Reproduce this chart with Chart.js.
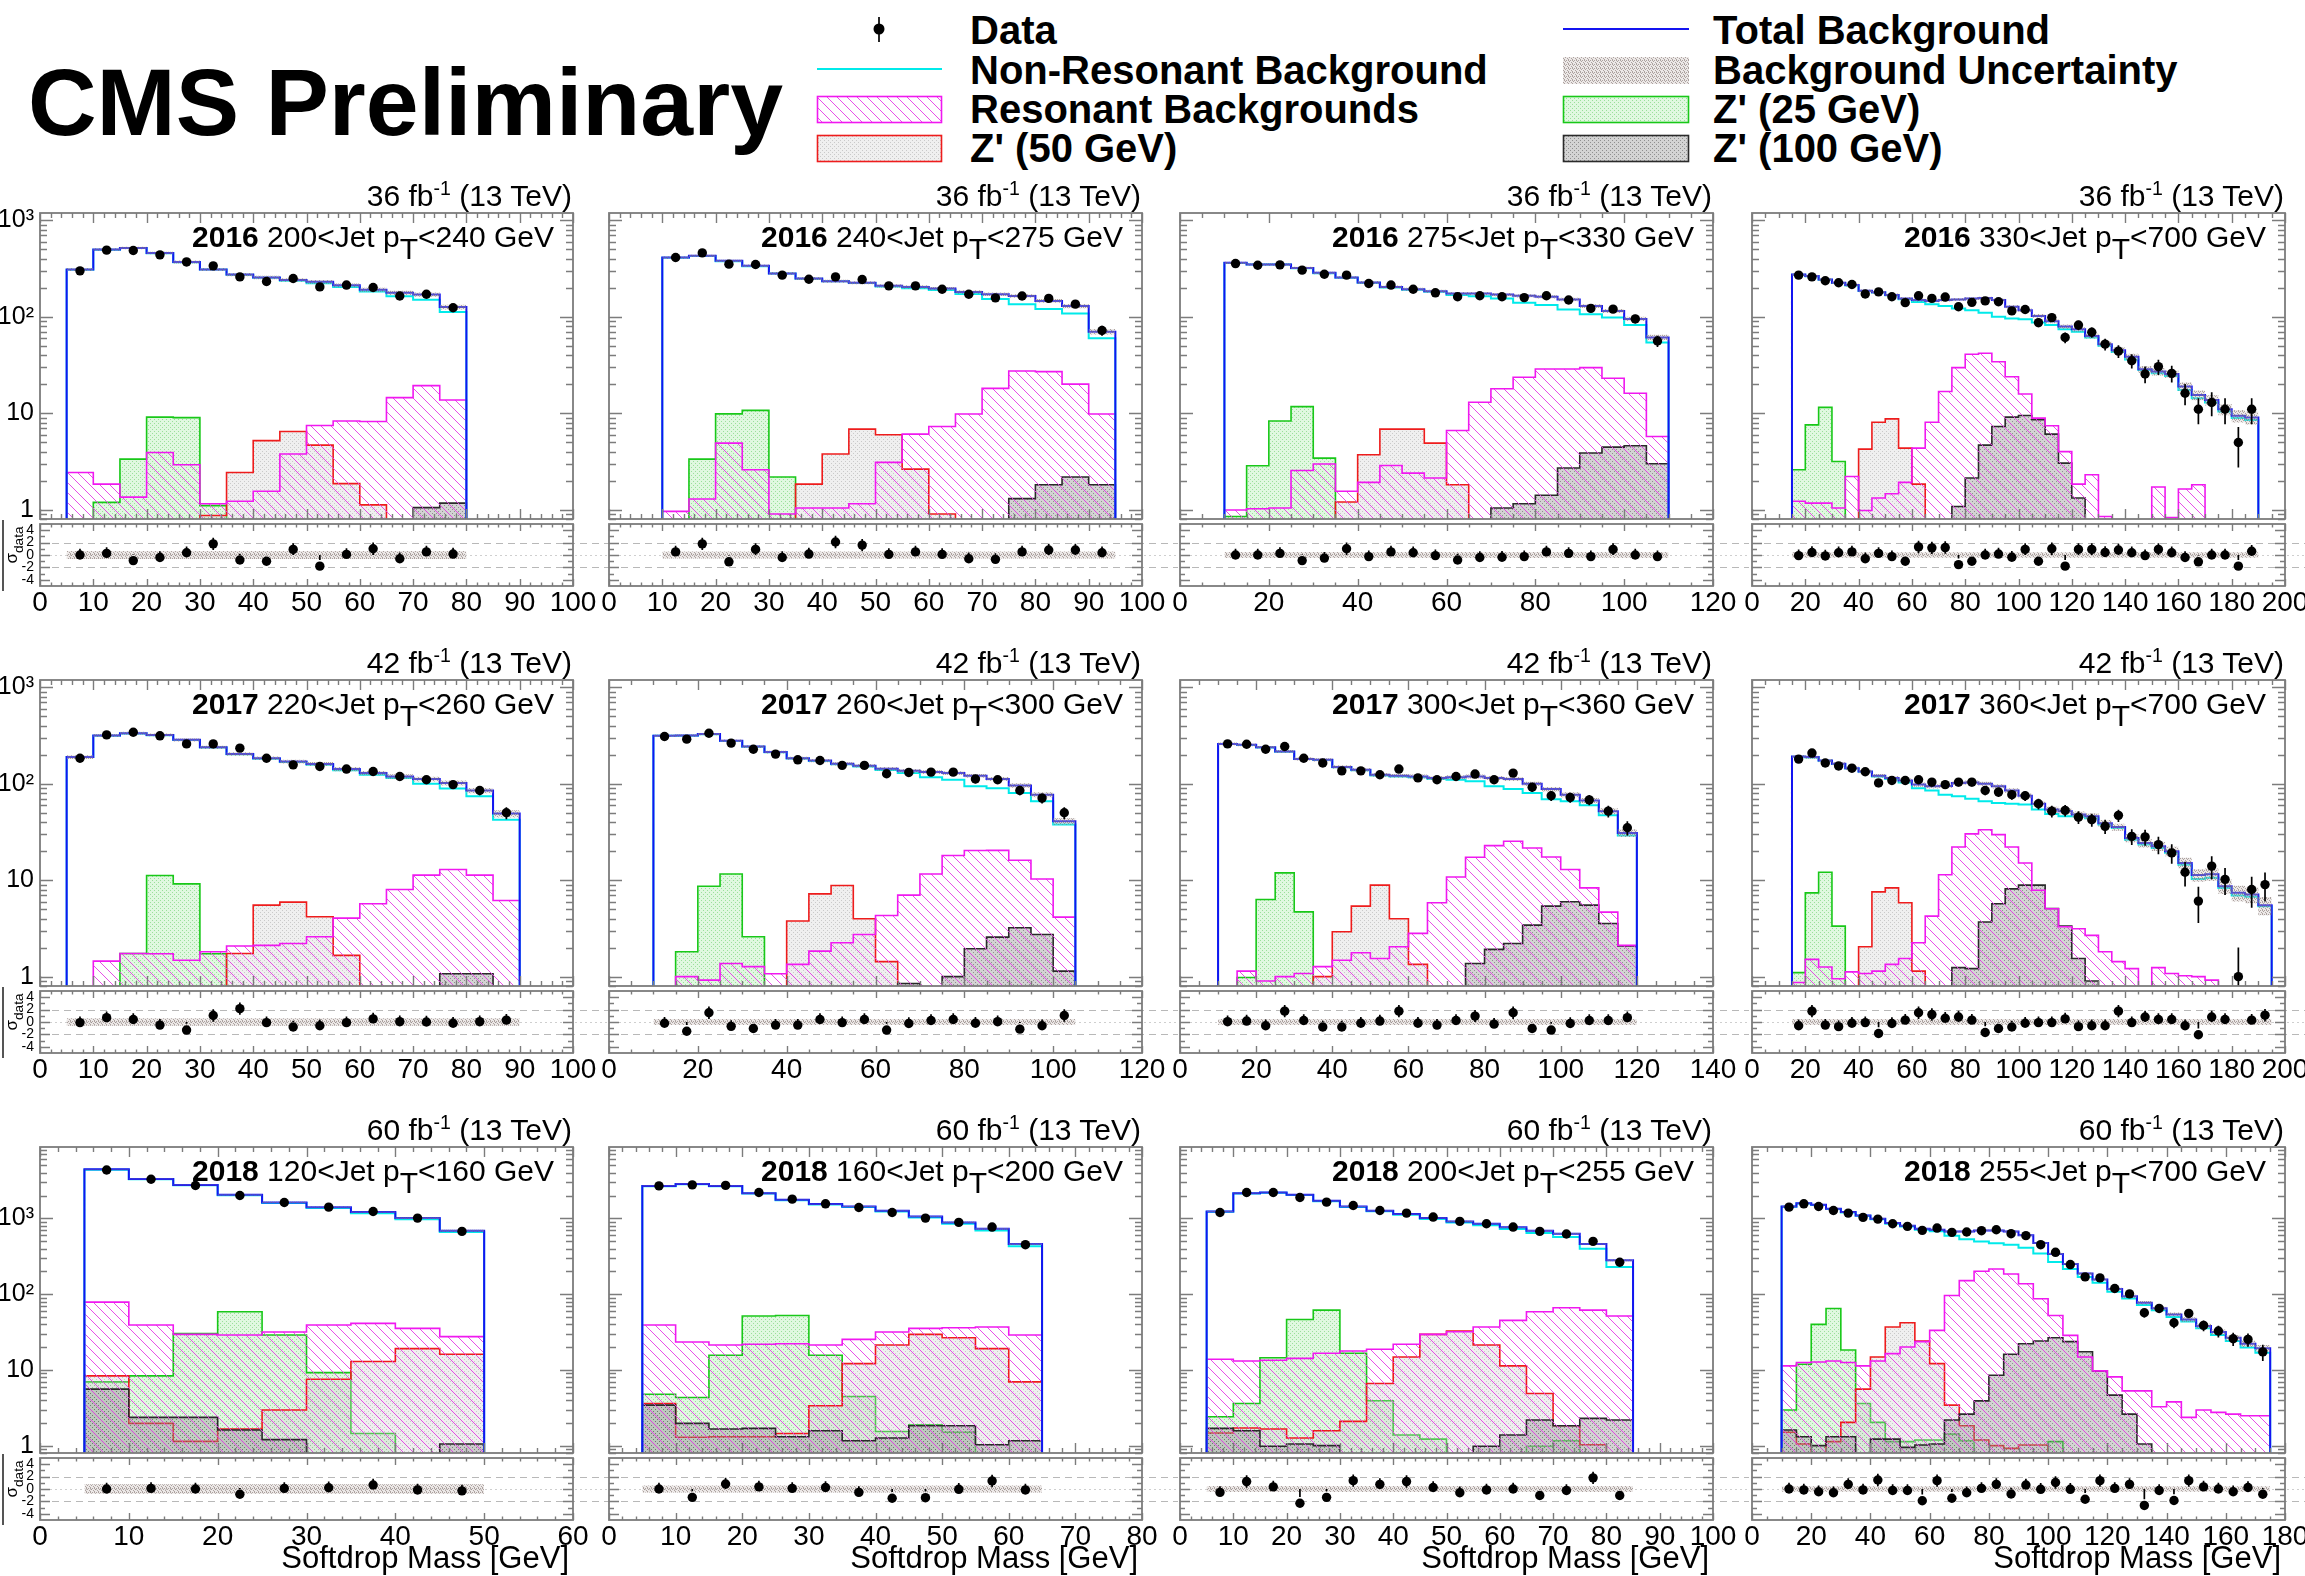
<!DOCTYPE html>
<html lang="en">
<head>
<meta charset="utf-8">
<title>Softdrop mass distributions</title>
<script src="https://cdn.jsdelivr.net/npm/chart.js@4.4.1/dist/chart.umd.min.js"></script>
<style>
  html, body { margin: 0; padding: 0; background: #fff; }
  body { position: relative; width: 2305px; height: 1576px; overflow: hidden;
         font-family: 'Liberation Sans', Arial, Helvetica, sans-serif; color: #000; }
  canvas { position: absolute; }
  .t { position: absolute; white-space: nowrap; line-height: 1; }
  .sub { position: relative; top: 0.42em; }
  .sup { position: relative; top: -0.55em; font-size: 0.65em; }
</style>
</head>
<body>
<script>
// ---------------------------------------------------------------
// Event yields per 5 GeV softdrop-mass bin, one block per category
// ---------------------------------------------------------------
const binWidth = 5;

// 2016, 200 < pT < 240 GeV
const total16A   = [309, 497, 517, 459, 370, 309, 274, 255, 240, 230, 212, 191, 177, 170, 126];
const nonRes16A  = [307, 495, 516, 455, 367, 308, 273, 253, 236, 223, 204, 183, 163, 150, 112];
const res16A     = [2.43, 1.84, 1.35, 3.92, 2.92, 1.15, 1.22, 1.55, 3.77, 7.45, 8.3, 8.2, 14.5, 19.3, 13.7];
const zp25_16A   = [0, 1.19, 3.34, 9.1, 9.0, 1.1, 0, 0, 0, 0, 0, 0, 0, 0, 0];
const zp50_16A   = [0, 0, 0, 0, 0, 0.87, 2.43, 5.2, 6.46, 4.67, 1.86, 1.12, 0, 0, 0];
const zp100_16A  = [0, 0, 0, 0, 0, 0, 0, 0, 0, 0, 0, 0, 0, 1.05, 1.17];
const data16A    = [299, 490, 486, 438, 370, 337, 259, 232, 249, 204, 213, 201, 164, 171, 124];
const pull16A    = [0, 0.26, -0.9, -0.4, 0.36, 1.8, -0.8, -1.0, 0.9, -1.8, 0.1, 1.0, -0.6, 0.5, 0.15];

// 2016, 240 < pT < 275 GeV
const total16B   = [411, 428, 380, 337, 281, 249, 234, 225, 209, 204, 196, 181, 171, 164, 146, 129, 70];
const nonRes16B  = [410, 427, 375, 334, 280, 248, 233, 224, 206, 198, 189, 172, 153, 135, 120, 108, 60];
const res16B     = [0.96, 1.29, 4.9, 2.59, 0.9, 1.04, 1.04, 1.15, 3.09, 6.07, 7.28, 9.8, 18.1, 27.4, 27, 20, 9.8];
const zp25_16B   = [0, 3.34, 9.84, 10.7, 2.18, 0, 0, 0, 0, 0, 0, 0, 0, 0, 0, 0, 0];
const zp50_16B   = [0, 0, 0, 0, 0, 1.84, 3.77, 6.83, 5.97, 2.63, 0.9, 0, 0, 0, 0, 0, 0];
const zp100_16B  = [0, 0, 0, 0, 0, 0, 0, 0, 0, 0, 0, 0, 0, 1.3, 1.81, 2.18, 1.81];
const data16B    = [411, 459, 351, 348, 270, 245, 259, 243, 209, 209, 193, 171, 157, 164, 155, 135, 72];
const pull16B    = [0.5, 1.8, -1.1, 0.9, -0.4, 0.15, 2.1, 1.6, 0.1, 0.5, 0.1, -0.6, -0.7, 0.5, 0.8, 0.8, 0.36];

// 2016, 275 < pT < 330 GeV
const total16C   = [362, 348, 348, 321, 285, 255, 227, 204, 193, 184, 174, 174, 170, 165, 161, 151, 129, 115, 95, 61];
const nonRes16C  = [361, 347, 347, 318, 282, 253, 225, 201, 191, 182, 168, 163, 155, 140, 132, 119, 106, 98, 82, 54];
const res16C     = [0.99, 1.02, 1.04, 2.55, 2.97, 1.55, 1.92, 2.87, 2.39, 2.13, 6.62, 13.0, 17.9, 23.6, 28.7, 28.7, 29.7, 23.0, 16.1, 5.74];
const zp25_16C   = [0.85, 2.85, 8.3, 11.7, 3.42, 0, 0, 0, 0, 0, 0, 0, 0, 0, 0, 0, 0, 0, 0, 0];
const zp50_16C   = [0, 0, 0, 0, 0, 1.2, 3.71, 6.83, 6.83, 4.9, 1.81, 0, 0, 0, 0, 0, 0, 0, 0, 0];
const zp100_16C  = [0, 0, 0, 0, 0, 0, 0, 0, 0, 0, 0, 0, 1.04, 1.15, 1.41, 2.7, 3.86, 4.45, 4.59, 2.99];
const data16C    = [356, 342, 345, 304, 276, 270, 221, 213, 193, 177, 161, 165, 161, 158, 165, 149, 122, 120, 95, 56];
const pull16C    = [0, 0, 0.26, -0.9, -0.5, 1.0, -0.26, 0.5, 0.36, -0.1, -0.8, -0.4, -0.36, -0.26, 0.5, 0.26, -0.26, 0.9, 0, -0.26];

// 2016, 330 < pT < 700 GeV
const total16D   = [274, 264, 243, 225, 213, 186, 179, 168, 155, 149, 146, 149, 151, 155, 156, 149, 127, 117, 102, 90,
                    79, 74, 63, 52, 45, 38.5, 28.5, 27, 25.5, 18.9, 15.4, 13.7, 11.0, 9.4, 9.0];
const nonRes16D  = [273, 263, 242, 224, 211, 185, 178, 167, 152, 142, 135, 129, 122, 117, 110, 100, 96, 94, 87, 82,
                    74, 70, 61, 50, 43, 36, 28, 26, 24.3, 17.4, 14.3, 12.9, 10.4, 8.9, 8.5];
const res16D     = [1.22, 1.17, 1.17, 1.04, 2.21, 0.98, 1.32, 1.46, 1.92, 4.34, 8.07, 16.8, 29.7, 40.8, 41.8, 34.2, 23.9, 15.8, 8.9, 7.4,
                    4.0, 1.84, 2.3, 0.85, 0, 0, 0, 1.72, 0.83, 1.64, 1.81, 0, 0, 0, 0];
const zp25_16D   = [2.59, 7.57, 11.5, 3.16, 0, 0, 0, 0, 0, 0, 0, 0, 0, 0, 0, 0, 0, 0, 0, 0,
                    0, 0, 0, 0, 0, 0, 0, 0, 0, 0, 0, 0, 0, 0, 0];
const zp50_16D   = [0, 0, 0, 0, 0, 4.24, 8.07, 8.74, 4.34, 1.84, 0, 0, 0, 0, 0, 0, 0, 0, 0, 0,
                    0, 0, 0, 0, 0, 0, 0, 0, 0, 0, 0, 0, 0, 0, 0];
const zp100_16D  = [0, 0, 0, 0, 0, 0, 0, 0, 0, 0, 0, 0, 1.08, 2.13, 4.67, 7.28, 9.1, 9.46, 8.54, 6.07,
                    3.04, 1.32, 0, 0, 0, 0, 0, 0, 0, 0, 0, 0, 0, 0, 0];
const data16D    = [270, 259, 236, 225, 216, 172, 181, 161, 140, 165, 155, 160, 127, 141, 146, 143, 115, 119, 87, 98,
                    61, 82, 69, 52, 44, 35, 25.5, 30.4, 25.9, 16.1, 11.0, 12.9, 11.0, 4.97, 11.0];
const pull16D    = [-0.1, 0.4, -0.15, 0.36, 0.5, -0.6, 0.26, -0.26, -1.0, 1.3, 1.15, 1.2, -1.55, -1.0, 0, 0.15, -0.36, 0.9, -1.0, 1.0,
                    -1.8, 0.9, 0.9, 0.4, 0.8, 0.36, -0.1, 0.9, 0.36, -0.4, -1.1, 0, 0, -1.8, 0.6];

// 2017, 220 < pT < 260 GeV
const total17A   = [189, 316, 334, 321, 285, 239, 204, 184, 170, 160, 142, 129, 119, 112, 102, 85, 49];
const nonRes17A  = [189, 315, 332, 319, 284, 237, 202, 182, 168, 157, 138, 124, 115, 100, 89, 74, 42.4];
const res17A     = [0, 1.45, 1.74, 1.73, 1.48, 1.81, 2.08, 2.11, 2.21, 2.59, 4.04, 5.69, 8.0, 11.3, 12.9, 11.3, 6.16];
const zp25_17A   = [0, 0, 1.74, 11.2, 9.16, 1.73, 0, 0, 0, 0, 0, 0, 0, 0, 0, 0, 0];
const zp50_17A   = [0, 0, 0, 0, 0, 0, 1.74, 5.51, 5.92, 4.18, 1.66, 0, 0, 0, 0, 0, 0];
const zp100_17A  = [0, 0, 0, 0, 0, 0, 0, 0, 0, 0, 0, 0, 0, 0, 1.07, 1.07, 0];
const data17A    = [184, 321, 342, 314, 259, 259, 234, 184, 157, 151, 142, 134, 119, 110, 98, 85, 50];
const pull17A    = [-0.1, 0.7, 0.4, -0.5, -1.3, 1.05, 2.15, -0.1, -0.8, -0.6, -0.1, 0.5, 0.05, 0, -0.2, 0.05, 0.3];

// 2017, 260 < pT < 300 GeV
const total17B   = [314, 316, 327, 279, 243, 213, 184, 174, 161, 154, 143, 136, 132, 129, 121, 112, 96, 77, 40.8];
const nonRes17B  = [314, 315, 326, 278, 242, 212, 183, 172, 159, 151, 139, 129, 117, 110, 94, 90, 80, 66, 37.7];
const res17B     = [0, 1.0, 0.92, 1.37, 1.27, 1.07, 1.34, 1.84, 2.25, 2.74, 4.31, 7.0, 11.6, 18.0, 20.3, 20.4, 16.1, 10.3, 4.14];
const zp25_17B   = [0, 1.81, 8.67, 11.6, 2.59, 0, 0, 0, 0, 0, 0, 0, 0, 0, 0, 0, 0, 0, 0];
const zp50_17B   = [0, 0, 0, 0, 0, 0, 3.77, 7.22, 8.81, 3.98, 1.43, 0, 0, 0, 0, 0, 0, 0, 0];
const zp100_17B  = [0, 0, 0, 0, 0, 0, 0, 0, 0, 0, 0, 0.85, 0, 1.0, 1.95, 2.57, 3.21, 2.74, 1.14];
const data17B    = [309, 290, 334, 264, 228, 203, 177, 174, 155, 155, 127, 131, 132, 132, 112, 110, 85, 71, 50];
const pull17B    = [-0.2, -1.5, 1.5, -0.7, -1.05, -0.5, -0.5, 0.4, -0.1, 0.4, -1.3, -0.25, 0.25, 0.4, -0.2, 0.05, -1.15, -0.6, 1.05];

// 2017, 300 < pT < 360 GeV
const total17C   = [259, 253, 239, 216, 181, 177, 149, 140, 124, 121, 119, 115, 117, 119, 115, 112, 100, 88, 77, 67, 52, 30.9];
const nonRes17C  = [259, 252, 238, 215, 180, 176, 148, 138, 122, 119, 117, 112, 110, 106, 94, 88, 80, 69, 66, 60, 47, 29];
const res17C     = [0, 1.14, 0.9, 1.0, 1.08, 1.27, 1.48, 1.77, 1.54, 2.04, 2.81, 5.83, 10.8, 17.3, 22.8, 25.3, 21.6, 17.4, 12.9, 8.33, 4.67, 2.11];
const zp25_17C   = [0, 0.98, 6.31, 11.9, 4.7, 0, 0, 0, 0, 0, 0, 0, 0, 0, 0, 0, 0, 0, 0, 0, 0, 0];
const zp50_17C   = [0, 0, 0, 0, 0, 1.0, 2.92, 5.38, 8.88, 3.98, 1.34, 0, 0, 0, 0, 0, 0, 0, 0, 0, 0, 0];
const zp100_17C  = [0, 0, 0, 0, 0, 0, 0, 0, 0, 0, 0, 0, 0, 1.37, 1.92, 2.21, 3.42, 5.38, 5.97, 5.51, 3.56, 2.08];
const data17C    = [259, 257, 228, 243, 184, 164, 136, 136, 124, 142, 115, 110, 119, 126, 110, 129, 92, 75, 72, 68, 52, 35];
const pull17C    = [0.05, 0.15, -0.6, 1.75, 0.25, -0.8, -0.8, -0.2, 0.15, 1.75, -0.2, -0.5, 0.25, 0.95, -0.35, 1.5, -1.05, -1.3, -0.25, 0.25, 0.25, 0.7];

// 2017, 360 < pT < 700 GeV
const total17D   = [192, 189, 174, 161, 145, 134, 121, 115, 108, 98, 94, 95, 102, 103, 100, 94, 85, 75, 62, 54,
                    52, 48, 46, 39, 35.6, 27.4, 24.3, 22.5, 20.0, 15.1, 11.3, 11.5, 8.67, 7.39, 7.11, 5.51];
const nonRes17D  = [191, 187, 173, 160, 144, 133, 119, 112, 103, 90, 85, 77, 74, 70, 66, 63, 62, 61, 54, 48.5,
                    46, 46, 44, 37.7, 34.8, 26.3, 23.4, 21.6, 19.2, 14.5, 10.3, 10.6, 8.3, 6.94, 6.72, 5.38];
const res17D     = [0.87, 1.51, 1.26, 0.95, 1.12, 1.08, 1.14, 1.34, 1.54, 2.25, 4.24, 11.4, 22.1, 30.2, 33.4, 29.7, 22.1, 15.1, 7.88, 5.05,
                    3.29, 3.14, 2.68, 1.81, 1.43, 1.21, 0, 1.24, 1.08, 1.02, 1.0, 0.92, 0, 0, 0, 0];
const zp25_17D   = [1.1, 7.39, 12.1, 3.34, 0, 0, 0, 0, 0, 0, 0, 0, 0, 0, 0, 0, 0, 0, 0, 0,
                    0, 0, 0, 0, 0, 0, 0, 0, 0, 0, 0, 0, 0, 0, 0, 0];
const zp50_17D   = [0, 0, 0, 0, 0, 2.04, 7.57, 8.33, 5.83, 1.14, 0, 0, 0, 0, 0, 0, 0, 0, 0, 0,
                    0, 0, 0, 0, 0, 0, 0, 0, 0, 0, 0, 0, 0, 0, 0, 0];
const zp100_17D  = [0, 0, 0, 0, 0, 0, 0, 0, 0, 0, 0, 0, 1.24, 1.21, 3.68, 5.69, 8.13, 8.88, 8.88, 5.09,
                    3.34, 1.54, 0.9, 0, 0, 0, 0, 0, 0, 0, 0, 0, 0, 0, 0, 0];
const data17D    = [180, 208, 164, 153, 145, 133, 102, 108, 108, 110, 104, 98, 104, 104, 85, 82, 77, 75, 62, 52,
                    53, 45, 42.4, 36.2, 47, 28.5, 28.1, 23.4, 19.2, 12.1, 6.07, 14.0, 10.2, 1.0, 8.0, 9.0];
const pull17D    = [-0.6, 1.75, -0.5, -0.75, -0.2, -0.1, -1.85, -0.25, 0.3, 1.5, 1.2, 0.6, 0.8, 0.3, -1.7, -1.05, -0.8, -0.2, -0.1, -0.1,
                    0.5, -0.75, -0.6, -0.6, 1.75, -0.1, 0.8, 0.4, 0.4, -0.6, -2.05, 0.8, 0.4, null, 0.3, 1.1];

// 2018, 120 < pT < 160 GeV
const total18A   = [4460, 3325, 2773, 2049, 1624, 1409, 1212, 1010, 688];
const nonRes18A  = [4380, 3285, 2743, 2020, 1593, 1370, 1171, 975, 661];
const res18A     = [78.5, 39.1, 29.5, 28.9, 31.6, 39.1, 41.1, 35.3, 27.5];
const zp25_18A   = [6.95, 8.34, 30.1, 58.6, 28.9, 9.22, 1.45, 0, 0];
const zp50_18A   = [8.34, 1.97, 1.14, 1.66, 2.95, 7.54, 12.9, 19.1, 16.1];
const zp100_18A  = [5.57, 2.36, 2.36, 1.61, 1.2, 0, 0, 0, 1.05];
const data18A    = [4365, 3293, 2717, 2008, 1624, 1409, 1236, 1010, 674];
const pull18A    = [0, 0.1, 0, -0.85, 0.1, 0.2, 0.65, -0.15, -0.3];

// 2018, 160 < pT < 200 GeV
const total18B   = [2690, 2858, 2690, 2154, 1760, 1545, 1438, 1262, 1062, 886, 731, 459];
const nonRes18B  = [2651, 2835, 2669, 2132, 1738, 1524, 1413, 1230, 1027, 850, 694, 428];
const res18B     = [39.1, 23.4, 21.3, 21.8, 22.2, 21.3, 25.3, 31.6, 35.3, 36.1, 36.8, 28.9];
const zp25_18B   = [4.78, 4.32, 15.6, 51.4, 52.4, 15.6, 4.46, 1.54, 1.89, 1.5, 0, 0];
const zp50_18B   = [3.6, 1.29, 1.31, 1.31, 1.45, 3.36, 12.1, 21.3, 29.5, 26.6, 19.1, 6.95];
const zp100_18B  = [3.43, 1.97, 1.66, 1.69, 1.31, 1.57, 1.16, 1.26, 1.83, 1.83, 1.03, 1.16];
const data18B    = [2690, 2773, 2730, 2198, 1796, 1559, 1396, 1199, 1010, 886, 769, 450];
const pull18B    = [0, -1.35, 0.8, 0.35, 0.1, 0.25, -0.55, -1.5, -1.4, -0.05, 1.3, -0.15];

// 2018, 200 < pT < 255 GeV
const total18C   = [1236, 2154, 2198, 2049, 1708, 1438, 1262, 1140, 1010, 914, 851, 762, 689, 629, 459, 280];
const nonRes18C  = [1222, 2141, 2185, 2035, 1691, 1420, 1243, 1118, 980, 882, 814, 725, 640, 570, 399, 229];
const res18C     = [13.8, 13.1, 13.4, 14.2, 16.6, 17.8, 18.7, 21.8, 29.5, 31.9, 36.8, 45.1, 58.6, 66.1, 61.5, 51.4];
const zp25_18C   = [2.41, 3.61, 14.5, 46.4, 61.5, 16.6, 3.91, 1.38, 1.22, 0, 0, 0, 0.98, 1.16, 0, 0];
const zp50_18C   = [1.47, 1.71, 1.66, 1.26, 1.57, 2.09, 6.61, 14.8, 29.5, 32.6, 21.3, 11.3, 4.88, 1.83, 1.03, 0];
const zp100_18C  = [1.69, 1.57, 0.98, 1.05, 1.0, 0, 0, 0, 0, 0, 0.98, 1.38, 2.18, 1.83, 2.29, 2.18];
const data18C    = [1199, 2198, 2198, 1888, 1640, 1483, 1274, 1175, 1042, 914, 851, 769, 674, 622, 498, 264];
const pull18C    = [-0.55, 1.2, 0.35, -2.3, -1.35, 1.35, 0.75, 1.2, 0.25, -0.6, -0.15, 0, -1.05, -0.25, 1.8, -1.05];

// 2018, 255 < pT < 700 GeV
const total18D   = [1438, 1592, 1513, 1340, 1212, 1096, 990, 868, 801, 731, 709, 674, 674, 695, 695, 674, 598, 474, 340, 251,
                    187, 156, 117, 94, 77, 65, 54, 46.4, 37.9, 31.6, 26.6, 22.2, 19.3];
const nonRes18D  = [1427, 1579, 1500, 1327, 1200, 1085, 977, 852, 781, 707, 676, 590, 530, 495, 470, 450, 410, 345, 265, 215,
                    168, 142, 108, 88, 72, 61.5, 50, 43.5, 35.5, 29, 24, 19.8, 16.8];
const res18D     = [11.3, 12.5, 12.7, 13.1, 12.5, 11.3, 13.1, 16.4, 20.1, 23.6, 33.3, 96, 151, 201, 215, 185, 137, 87, 52.4, 28.6,
                    14.8, 9.7, 8.1, 5.29, 5.29, 3.26, 3.79, 2.36, 2.95, 2.75, 2.61, 2.48, 2.48];
const zp25_18D   = [2.95, 11.9, 39.9, 64.8, 18.3, 3.61, 2.03, 1.13, 1.13, 1.19, 1.19, 1.42, 1.16, 0, 0, 0, 0, 0, 1.13, 0,
                    0, 0, 0, 0, 0, 0, 0, 0, 0, 0, 0, 0, 0];
const zp50_18D   = [1.5, 1.05, 0, 1.13, 2.03, 5.57, 14.8, 36.8, 42, 24.1, 12.1, 3.43, 1.83, 1.19, 1.0, 0.92, 1.02, 1.02, 0, 0,
                    0, 0, 0, 0, 0, 0, 0, 0, 0, 0, 0, 0, 0];
const zp100_18D  = [1.61, 1.31, 1.0, 1.31, 1.31, 0, 1.22, 1.22, 0.95, 1.02, 1.05, 2.18, 2.61, 3.9, 8.5, 16.1, 22.2, 24.1, 26.6, 23.6,
                    17.4, 9.7, 4.64, 2.61, 1.05, 0, 0, 0, 0, 0, 0, 0, 0];
const data18D    = [1409, 1559, 1438, 1274, 1175, 1031, 980, 851, 785, 695, 746, 654, 661, 689, 709, 629, 592, 450, 357, 246,
                    169, 164, 119, 101, 56.8, 64.8, 42, 55.7, 38.7, 32.6, 25.8, 25.3, 17.3];
const pull18D    = [0, -0.15, -0.45, -0.6, 0.75, -0.15, 1.45, -0.25, -0.25, -1.9, 1.35, -1.5, -0.6, 0.1, 0.75, -0.8, 0.65, -0.05, 1.05, -0.05,
                    -1.65, 1.35, 0.1, 0.75, -2.65, -0.25, -1.85, 1.35, 0.35, 0, -0.45, 0.25, -0.85];

// ---- category descriptions (row-major: 2016, 2017, 2018) ----
const years     = ['2016', '2016', '2016', '2016', '2017', '2017', '2017', '2017', '2018', '2018', '2018', '2018'];
const ptLow     = [200, 240, 275, 330, 220, 260, 300, 360, 120, 160, 200, 255];
const ptHigh    = [240, 275, 330, 700, 260, 300, 360, 700, 160, 200, 255, 700];
const lumiFb    = ['36', '36', '36', '36', '42', '42', '42', '42', '60', '60', '60', '60'];
const massStart = [5, 10, 10, 15, 5, 10, 10, 15, 5, 5, 5, 10];
const axisMax   = [100, 100, 120, 200, 100, 120, 140, 200, 60, 80, 100, 180];
const axisStep  = [10, 10, 20, 20, 10, 20, 20, 20, 10, 10, 10, 20];
const uncHalfWidth = [0.65, 0.55, 0.5, 0.45, 0.6, 0.5, 0.5, 0.5, 0.75, 0.55, 0.5, 0.45];

const legendLeft  = ['Data', 'Non-Resonant Background', 'Resonant Backgrounds', "Z' (50 GeV)"];
const legendRight = ['Total Background', 'Background Uncertainty', "Z' (25 GeV)", "Z' (100 GeV)"];

const totals  = [total16A, total16B, total16C, total16D, total17A, total17B, total17C, total17D, total18A, total18B, total18C, total18D];
const nonRes  = [nonRes16A, nonRes16B, nonRes16C, nonRes16D, nonRes17A, nonRes17B, nonRes17C, nonRes17D, nonRes18A, nonRes18B, nonRes18C, nonRes18D];
const resBkg  = [res16A, res16B, res16C, res16D, res17A, res17B, res17C, res17D, res18A, res18B, res18C, res18D];
const zp25    = [zp25_16A, zp25_16B, zp25_16C, zp25_16D, zp25_17A, zp25_17B, zp25_17C, zp25_17D, zp25_18A, zp25_18B, zp25_18C, zp25_18D];
const zp50    = [zp50_16A, zp50_16B, zp50_16C, zp50_16D, zp50_17A, zp50_17B, zp50_17C, zp50_17D, zp50_18A, zp50_18B, zp50_18C, zp50_18D];
const zp100   = [zp100_16A, zp100_16B, zp100_16C, zp100_16D, zp100_17A, zp100_17B, zp100_17C, zp100_17D, zp100_18A, zp100_18B, zp100_18C, zp100_18D];
const dataObs = [data16A, data16B, data16C, data16D, data17A, data17B, data17C, data17D, data18A, data18B, data18C, data18D];
const pulls   = [pull16A, pull16B, pull16C, pull16D, pull17A, pull17B, pull17C, pull17D, pull18A, pull18B, pull18C, pull18D];

// ---------------------------------------------------------------
// Page geometry
// ---------------------------------------------------------------
const colLeft = [40, 609, 1180, 1752];
const frameW = 533;
const rowTop = [213, 680, 1147];
const mainH = 306, ratioGap = 5, ratioH = 62;
const yMaxRow = [1190, 1190, 8770];
const yMin = 0.8;
const FLOOR = 1e-3;
const FRAME_COLOR = '#7c7c7c';

const COL = {
  total: '#1414f0', nonRes: '#00eaea', res: '#f018f0',
  z25: '#18c818', z50: '#ee1c1c', z100: '#2a2a2a'
};

Chart.defaults.font.family = "'Liberation Sans', Arial, Helvetica, sans-serif";
Chart.defaults.color = '#000';
Chart.defaults.animation = false;

// ---------------------------------------------------------------
// Fill patterns
// ---------------------------------------------------------------
function makePattern(size, draw) {
  const c = document.createElement('canvas');
  c.width = size; c.height = size;
  const g = c.getContext('2d');
  draw(g, size);
  return g.createPattern(c, 'repeat');
}
const hatchRes = makePattern(10, (g, s) => {
  g.strokeStyle = 'rgba(228, 60, 228, 0.9)'; g.lineWidth = 1;
  g.beginPath();
  g.moveTo(-1, -1); g.lineTo(s + 1, s + 1);
  g.moveTo(-1, s - 1); g.lineTo(1, s + 1);
  g.moveTo(s - 1, -1); g.lineTo(s + 1, 1);
  g.stroke();
});
function stipple(base, dot) {
  return makePattern(4, (g) => {
    g.fillStyle = base; g.fillRect(0, 0, 4, 4);
    g.fillStyle = dot; g.fillRect(0, 0, 1, 1); g.fillRect(2, 2, 1, 1);
  });
}
const fillZ25 = stipple('rgba(180, 238, 180, 0.42)', 'rgba(70, 190, 70, 0.45)');
const fillZ50 = stipple('rgba(205, 205, 205, 0.32)', 'rgba(130, 130, 130, 0.35)');
const fillZ100 = stipple('rgba(150, 150, 150, 0.42)', 'rgba(60, 60, 60, 0.45)');
const fillUnc = makePattern(4, (g, s) => {
  g.fillStyle = 'rgba(200, 190, 185, 0.35)'; g.fillRect(0, 0, s, s);
  g.fillStyle = 'rgba(120, 105, 100, 0.55)';
  g.fillRect(0, 0, 1, 1); g.fillRect(2, 0, 1, 1); g.fillRect(1, 1, 1, 1); g.fillRect(3, 2, 1, 1); g.fillRect(0, 3, 1, 1);
});

// ---------------------------------------------------------------
// Plugins: inward ROOT-style ticks/frame and data error bars
// ---------------------------------------------------------------
const frameTicks = {
  id: 'frameTicks',
  beforeDatasetsDraw(chart, args, o) {
    if (!o.refLines) return;
    const { ctx, chartArea: a, scales: { y } } = chart;
    ctx.save();
    ctx.lineWidth = 1;
    [[2, [7, 5], '#b8b8b8'], [-2, [7, 5], '#b8b8b8'], [0, [2, 3], '#cfcfcf']].forEach(([v, dash, col]) => {
      const py = Math.round(y.getPixelForValue(v)) + 0.5;
      ctx.strokeStyle = col; ctx.setLineDash(dash);
      ctx.beginPath(); ctx.moveTo(a.left, py); ctx.lineTo(a.right + o.ext, py); ctx.stroke();
    });
    ctx.restore();
  },
  afterDraw(chart, args, o) {
    const { ctx, chartArea: a, scales: { x, y } } = chart;
    ctx.save();
    ctx.strokeStyle = FRAME_COLOR; ctx.lineWidth = 1.4; ctx.setLineDash([]);
    ctx.beginPath();
    const n = Math.round(o.xMax / o.xMinor);
    for (let i = 0; i <= n; i++) {
      const v = i * o.xMinor;
      const major = Math.abs(v / o.xStep - Math.round(v / o.xStep)) < 1e-6;
      const len = major ? o.xMaj : o.xMin;
      const px = Math.round(x.getPixelForValue(v)) + 0.5;
      ctx.moveTo(px, a.bottom); ctx.lineTo(px, a.bottom - len);
      ctx.moveTo(px, a.top); ctx.lineTo(px, a.top + len);
    }
    if (o.log) {
      for (let d = -1; d <= 4; d++) {
        for (let k = 1; k <= 9; k++) {
          const v = k * Math.pow(10, d);
          if (v < y.min || v > y.max) continue;
          const py = Math.round(y.getPixelForValue(v)) + 0.5;
          const len = k === 1 ? o.yMaj : o.yMin;
          ctx.moveTo(a.left, py); ctx.lineTo(a.left + len, py);
          ctx.moveTo(a.right, py); ctx.lineTo(a.right - len, py);
        }
      }
    } else {
      for (let v = -4; v <= 4; v++) {
        const py = Math.round(y.getPixelForValue(v)) + 0.5;
        const len = v % 2 === 0 ? o.yMaj : o.yMin;
        ctx.moveTo(a.left, py); ctx.lineTo(a.left + len, py);
        ctx.moveTo(a.right, py); ctx.lineTo(a.right - len, py);
      }
    }
    ctx.stroke();
    ctx.lineWidth = 1.8;
    ctx.strokeRect(a.left, a.top, a.right - a.left, a.bottom - a.top);
    ctx.restore();
  }
};

const errorBars = {
  id: 'errorBars',
  afterDatasetsDraw(chart, args, o) {
    const ds = chart.data.datasets[o.index];
    const meta = chart.getDatasetMeta(o.index);
    const { ctx, chartArea: a, scales: { y } } = chart;
    ctx.save();
    ctx.beginPath(); ctx.rect(a.left, a.top, a.right - a.left, a.bottom - a.top); ctx.clip();
    ctx.strokeStyle = '#000'; ctx.lineWidth = 1.7;
    ctx.beginPath();
    ds.data.forEach((pt, i) => {
      if (pt.y == null) return;
      const err = o.poisson ? Math.sqrt(pt.y) : 1;
      const el = meta.data[i];
      const top = y.getPixelForValue(pt.y + err);
      const bot = y.getPixelForValue(Math.max(pt.y - err, FLOOR));
      ctx.moveTo(el.x, bot); ctx.lineTo(el.x, top);
    });
    ctx.stroke();
    ctx.restore();
  }
};

// ---------------------------------------------------------------
// Helpers
// ---------------------------------------------------------------
function histPoints(start, vals) {
  const pts = [{ x: start, y: FLOOR }];
  vals.forEach((v, i) => pts.push({ x: start + i * binWidth, y: v > 0 ? v : FLOOR }));
  pts.push({ x: start + vals.length * binWidth, y: FLOOR });
  return pts;
}
function histDataset(start, vals, color, width, fillStyle, order) {
  return {
    data: histPoints(start, vals), stepped: true,
    borderColor: color, borderWidth: width,
    backgroundColor: fillStyle || 'rgba(0,0,0,0)', fill: fillStyle ? 'start' : false,
    pointRadius: 0, pointHoverRadius: 0, order
  };
}
function makeCanvas(left, top, w, h) {
  const c = document.createElement('canvas');
  c.width = w; c.height = h;
  c.style.left = left + 'px'; c.style.top = top + 'px';
  c.style.width = w + 'px'; c.style.height = h + 'px';
  document.body.appendChild(c);
  return c;
}
function addText(html, x, baseline, fs, opts = {}) {
  const d = document.createElement('div');
  d.className = 't';
  d.innerHTML = html;
  d.style.fontSize = fs + 'px';
  d.style.left = x + 'px';
  d.style.top = (baseline - 0.8465 * fs) + 'px';
  if (opts.bold) d.style.fontWeight = 'bold';
  if (opts.right) d.style.transform = 'translateX(-100%)';
  document.body.appendChild(d);
  return d;
}
const supLabel = { 1: '1', 10: '10', 100: '10²', 1000: '10³' };

// ---------------------------------------------------------------
// Panels
// ---------------------------------------------------------------
years.forEach((year, k) => {
  const r = Math.floor(k / 4), c = k % 4;
  const L = colLeft[c], T = rowTop[r];
  const start = massStart[k];
  const nBins = totals[k].length;
  const end = start + nBins * binWidth;
  const minorStep = axisStep[k] === 10 ? 2 : 5;
  const h = uncHalfWidth[k];
  const padL = 46;

  // ---------- upper pad: stacked yields on a log scale ----------
  const up = totals[k].map(v => v + h * Math.sqrt(v));
  const lo = totals[k].map(v => Math.max(v - h * Math.sqrt(v), FLOOR));
  const mainCanvas = makeCanvas(L - padL, T - 14, padL + frameW + 6, 14 + mainH + 6);
  new Chart(mainCanvas, {
    type: 'line',
    data: {
      datasets: [
        { data: dataObs[k].map((v, i) => ({ x: start + (i + 0.5) * binWidth, y: v })),
          showLine: false, pointRadius: 4.7, pointBackgroundColor: '#000', pointBorderWidth: 0, order: 0 },
        { data: histPoints(start, up), stepped: true, borderColor: 'rgba(0,0,0,0)', backgroundColor: fillUnc,
          fill: '+1', pointRadius: 0, order: 1 },
        { data: histPoints(start, lo), stepped: true, borderColor: 'rgba(0,0,0,0)', fill: false, pointRadius: 0, order: 1 },
        histDataset(start, totals[k], COL.total, 2, null, 2),
        histDataset(start, nonRes[k], COL.nonRes, 2, null, 3),
        histDataset(start, resBkg[k], COL.res, 1.6, hatchRes, 4),
        histDataset(start, zp100[k], COL.z100, 1.6, fillZ100, 5),
        histDataset(start, zp50[k], COL.z50, 1.6, fillZ50, 6),
        histDataset(start, zp25[k], COL.z25, 1.6, fillZ25, 7)
      ]
    },
    options: {
      responsive: false, animation: false, events: [], devicePixelRatio: 1,
      layout: { padding: { left: 0, top: 14, right: 6, bottom: 6 } },
      plugins: {
        legend: { display: false }, tooltip: { enabled: false },
        frameTicks: { log: true, xMax: axisMax[k], xStep: axisStep[k], xMinor: minorStep, xMaj: 10, xMin: 5, yMaj: 13, yMin: 7 },
        errorBars: { index: 0, poisson: true }
      },
      scales: {
        x: { type: 'linear', display: false, min: 0, max: axisMax[k] },
        y: {
          type: 'logarithmic', position: 'left', min: yMin, max: yMaxRow[r],
          grid: { display: false, drawTicks: false }, border: { display: false },
          ticks: { display: c === 0, autoSkip: false, padding: 6, color: '#000', font: { size: 25 },
                   callback: v => supLabel[v] || '' },
          afterBuildTicks: s => { s.ticks = [1, 10, 100, 1000].map(v => ({ value: v })); },
          afterFit: s => { s.width = padL; s.paddingTop = 0; s.paddingBottom = 0; }
        }
      }
    },
    plugins: [frameTicks, errorBars]
  });

  // ---------- lower pad: (data - bkg) / sigma ----------
  const rT = T + mainH + ratioGap;
  const ratioCanvas = makeCanvas(L - padL, rT - 10, padL + frameW + 42, 10 + ratioH + 42);
  new Chart(ratioCanvas, {
    type: 'line',
    data: {
      datasets: [
        { data: pulls[k].map((v, i) => ({ x: start + (i + 0.5) * binWidth, y: v })),
          showLine: false, pointRadius: 4.7, pointBackgroundColor: '#000', pointBorderWidth: 0, order: 0 },
        { data: [{ x: start, y: h }, { x: end, y: h }], borderColor: 'rgba(0,0,0,0)', backgroundColor: fillUnc,
          fill: { value: -h }, pointRadius: 0, order: 1 }
      ]
    },
    options: {
      responsive: false, animation: false, events: [], devicePixelRatio: 1,
      layout: { padding: { left: 0, top: 10, right: 42, bottom: 0 } },
      plugins: {
        legend: { display: false }, tooltip: { enabled: false },
        frameTicks: { log: false, refLines: true, ext: 36, xMax: axisMax[k], xStep: axisStep[k], xMinor: minorStep,
                      xMaj: 7, xMin: 3.5, yMaj: 10, yMin: 5 },
        errorBars: { index: 0, poisson: false }
      },
      scales: {
        x: {
          type: 'linear', position: 'bottom', min: 0, max: axisMax[k],
          grid: { display: false, drawTicks: false }, border: { display: false },
          ticks: { stepSize: axisStep[k], autoSkip: false, maxRotation: 0, padding: 0, color: '#000',
                   font: { size: 28 }, callback: v => String(v) },
          afterFit: s => { s.height = 42; s.paddingLeft = 0; s.paddingRight = 0; }
        },
        y: {
          type: 'linear', position: 'left', min: -5, max: 5,
          grid: { display: false, drawTicks: false }, border: { display: false },
          ticks: { display: c === 0, autoSkip: false, padding: 6, color: '#000', font: { size: 14 },
                   callback: v => String(v) },
          afterBuildTicks: s => { s.ticks = [-4, -2, 0, 2, 4].map(v => ({ value: v })); },
          afterFit: s => { s.width = padL; s.paddingTop = 0; s.paddingBottom = 0; }
        }
      }
    },
    plugins: [frameTicks, errorBars]
  });

  // ---------- text ----------
  addText(lumiFb[k] + ' fb<span class="sup">-1</span> (13 TeV)', L + frameW - 1, T - 7, 30, { right: true });
  addText('<b>' + year + '</b> ' + ptLow[k] + '&lt;Jet p<span class="sub">T</span>&lt;' + ptHigh[k] + ' GeV',
          L + frameW - 19, T + 34, 30, { right: true });
  if (r === 2) addText('Softdrop Mass [GeV]', L + frameW - 4, T + 421, 31, { right: true });
  if (c === 0) {
    const bar = document.createElement('div');
    bar.style.cssText = 'position:absolute;left:2px;width:1.5px;background:#555;top:' + (rT - 4) + 'px;height:' + (ratioH + 9) + 'px';
    document.body.appendChild(bar);
    const s = document.createElement('div');
    s.className = 't';
    s.innerHTML = 'σ<span class="sub" style="font-size:0.8em">data</span>';
    s.style.cssText += 'font-size:17px;left:11px;top:' + (rT + 21) + 'px;transform:translate(-50%,-50%) rotate(-90deg);';
    document.body.appendChild(s);
  }
});

// ---------------------------------------------------------------
// Header: experiment label and legend
// ---------------------------------------------------------------
addText('CMS Preliminary', 28, 135, 95, { bold: true });

const rowBase = [43.5, 83.5, 123, 162];
legendLeft.forEach((txt, i) => addText(txt, 970, rowBase[i], 40, { bold: true }));
legendRight.forEach((txt, i) => addText(txt, 1713, rowBase[i], 40, { bold: true }));

const lg = makeCanvas(780, 0, 950, 180);
const g = lg.getContext('2d');
const ox = 780;
function legLine(x0, x1, y, col) {
  g.strokeStyle = col; g.lineWidth = 2; g.beginPath(); g.moveTo(x0 - ox, y); g.lineTo(x1 - ox, y); g.stroke();
}
function legBox(x, y, w, hgt, fillStyle, stroke) {
  g.fillStyle = '#fff'; g.fillRect(x - ox, y, w, hgt);
  g.fillStyle = fillStyle; g.fillRect(x - ox, y, w, hgt);
  if (stroke) { g.strokeStyle = stroke; g.lineWidth = 1.6; g.strokeRect(x - ox + 0.5, y + 0.5, w - 1, hgt - 1); }
}
// data marker
g.fillStyle = '#000'; g.beginPath(); g.arc(879 - ox, 29, 5.5, 0, 2 * Math.PI); g.fill();
g.strokeStyle = '#000'; g.lineWidth = 1.7; g.beginPath(); g.moveTo(879 - ox, 17); g.lineTo(879 - ox, 42); g.stroke();
legLine(817, 942, 69, COL.nonRes);
legBox(817, 96, 125, 27, hatchRes, COL.res);
legBox(817, 135, 125, 27, fillZ50, COL.z50);
legLine(1563, 1689, 29, COL.total);
legBox(1563, 57, 126, 27, fillUnc, null);
legBox(1563, 96, 126, 27, fillZ25, COL.z25);
legBox(1563, 135, 126, 27, fillZ100, COL.z100);
</script>
</body>
</html>
